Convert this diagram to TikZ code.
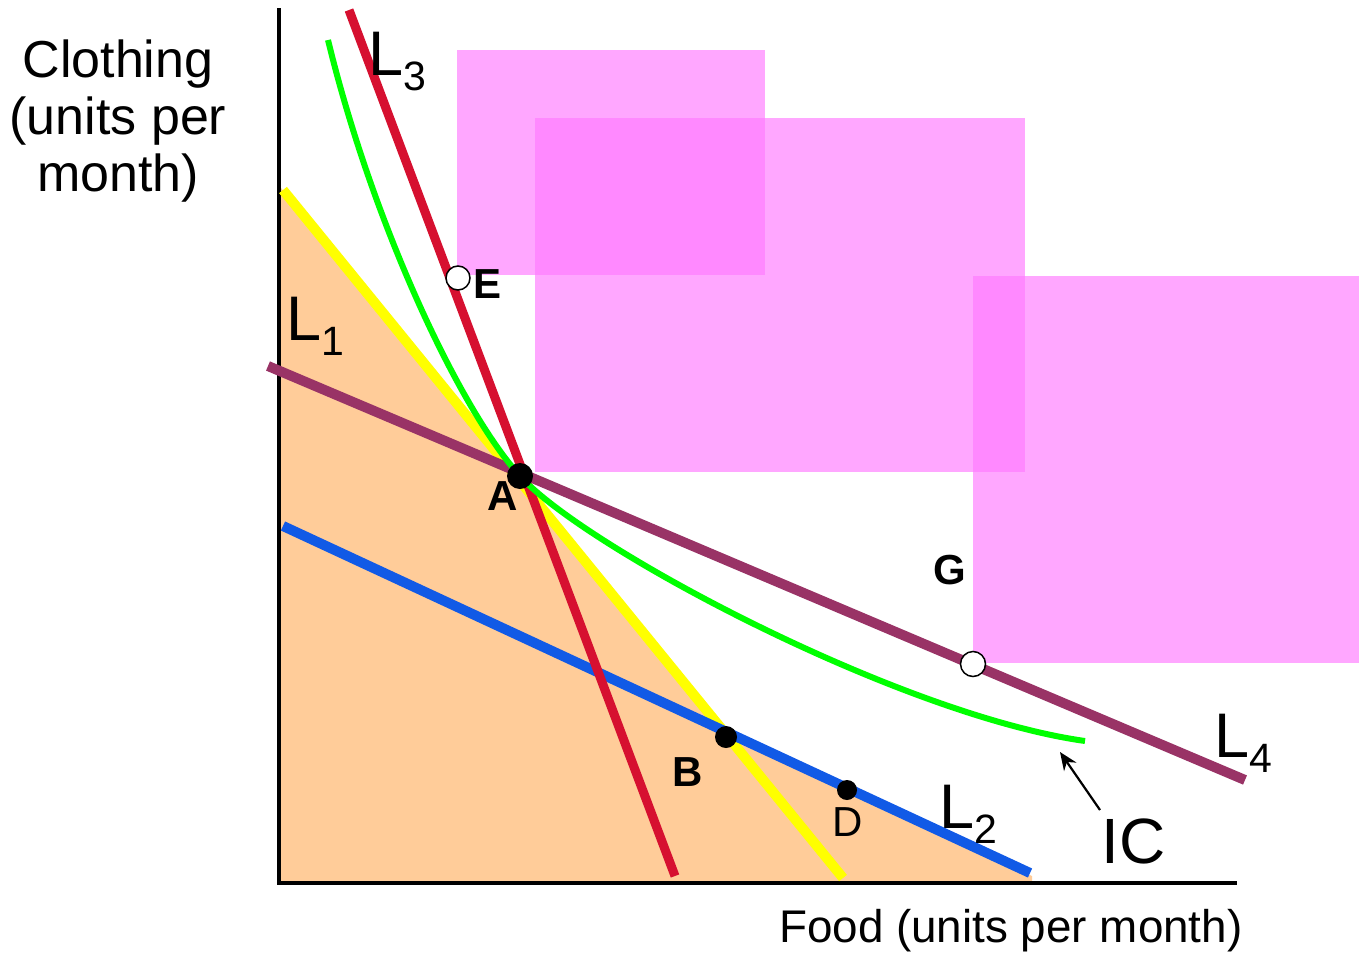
\documentclass[tikz,border=0pt]{standalone}
\usepackage{fontspec}
\setmainfont{Liberation Sans}
\usetikzlibrary{arrows, arrows.meta, positioning}
\definecolor{peach}{RGB}{255,204,153}
\definecolor{setpink}{RGB}{255,121,255}
\definecolor{lineone}{RGB}{255,255,0}
\definecolor{linetwo}{RGB}{17,90,230}
\definecolor{linethree}{RGB}{214,16,48}
\definecolor{linefour}{RGB}{153,51,102}
\definecolor{icgreen}{RGB}{0,255,0}
\newcommand{\Lname}[1]{L\raisebox{-0.24em}{\fontsize{41}{41}\selectfont #1}}

\begin{document}
\begin{tikzpicture}[
    x=1pt, y=-1pt,
    budget/.style={line width=10pt},
    region/.style={fill=setpink, opacity=0.66},
    solid dot/.style={circle, fill=black, inner sep=0pt, minimum size=#1},
    open dot/.style={circle, draw=black, line width=1.5pt, fill=white, inner sep=0pt, minimum size=22pt},
    ptlabel/.style={font=\fontsize{42}{42}\selectfont\bfseries, inner sep=0pt},
    linelabel/.style={font=\fontsize{63}{63}\selectfont, anchor=base west, inner sep=0pt},
    axislabel/.style={font=\fontsize{52}{57}\selectfont, align=center, inner sep=0pt},
    arrow/.style={line width=2.2pt, -{Stealth[length=18pt, width=15pt]}}
]
    \useasboundingbox (0,0) rectangle (1359,953);

    % affordable set
    \fill[peach] (281,188) -- (725,734) -- (1032,876) -- (1032,881) -- (281,881) -- cycle;

    % preferred sets
    \fill[region] (457,50) rectangle (765,275);
    \fill[region] (535,118) rectangle (1025,472);
    \fill[region] (973,276) rectangle (1359,663);

    % axes
    \coordinate (origin) at (279,883);
    \coordinate (ytop) at (279,8);
    \coordinate (xend) at (1237,883);
    \draw[line width=4pt] (ytop) -- (origin) -- (xend);

    % budget lines
    \coordinate (l1a) at (283,190);
    \coordinate (l1b) at (843,878);
    \coordinate (l2a) at (283,526);
    \coordinate (l2b) at (1030,873);
    \coordinate (l3a) at (349,10);
    \coordinate (l3b) at (675,876);
    \coordinate (l4a) at (268,366);
    \coordinate (l4b) at (1245,780);
    \draw[budget, lineone] (l1a) -- (l1b);
    \draw[budget, linetwo] (l2a) -- (l2b);
    \draw[budget, linethree, line width=9pt] (l3a) -- (l3b);
    \draw[budget, linefour] (l4a) -- (l4b);

    % indifference curve
    \coordinate (icstart) at (328,40);
    \coordinate (icend) at (1085,741);
    \coordinate (icmid) at (520,476);
    \draw[icgreen, line width=6pt] (icstart) .. controls (373,225) and (460,410) .. (icmid)
        .. controls (585,548) and (900,715) .. (icend);

    % bundles
    \node[solid dot=26pt] (A) at (520,476) {};
    \node[solid dot=22pt] (B) at (726,737) {};
    \node[solid dot=20pt] (D) at (847,790) {};
    \node[open dot, minimum size=24pt] (E) at (458,278) {};
    \node[open dot, minimum size=25pt] (G) at (973,664) {};

    \node[ptlabel] (Alab) at (503,496) {A};
    \node[ptlabel] (Blab) at (688,772) {B};
    \node[ptlabel, font=\fontsize{42}{42}\selectfont] (Dlab) at (848,822) {D};
    \node[ptlabel] (Elab) at (488,284) {E};
    \node[ptlabel] (Glab) at (950,570) {G};

    \node[linelabel] (L1) at (286,340) {\Lname{1}};
    \node[linelabel] (L2) at (939,828) {\Lname{2}};
    \node[linelabel] (L3) at (368,75) {\Lname{3}};
    \node[linelabel] (L4) at (1214,757) {\Lname{4}};

    \node[linelabel, font=\fontsize{64}{64}\selectfont] (IC) at (1101,863) {IC};
    \coordinate (ictip) at (1060,752);
    \coordinate (ictail) at (1100,810);
    \draw[arrow] (ictail) -- (ictip);

    \node[axislabel, anchor=north] (ylab) at (118,40) {Clothing\\(units per\\month)};
    \node[axislabel, font=\fontsize{45.8}{46}\selectfont, anchor=base west] (xlab) at (779,942) {Food (units per month)};
\end{tikzpicture}
\end{document}
